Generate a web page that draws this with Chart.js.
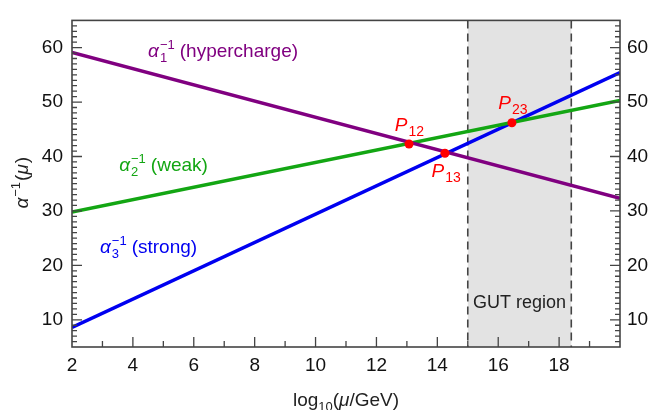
<!DOCTYPE html>
<html>
<head>
<meta charset="utf-8">
<script src="https://cdn.jsdelivr.net/npm/chart.js@4/dist/chart.umd.min.js"></script>
<style>
  html, body { margin: 0; padding: 0; background: #fff; }
  #wrap { width: 651px; height: 410px; }
</style>
</head>
<body>
<div id="wrap"><canvas id="c" width="651" height="410"></canvas></div>
<script>
// data
const logMu = [2, 20];
const alpha1Inv = [59.1, 32.3];   // hypercharge
const alpha2Inv = [29.8, 50.3];   // weak
const alpha3Inv = [8.6, 55.4];    // strong
const crossNames = ['12', '13', '23'];
const crossX = [13.07, 14.25, 16.45];
const crossY = [42.3, 40.6, 46.2];
const gutRegion = [15, 18.4];
const xTicks = [2, 4, 6, 8, 10, 12, 14, 16, 18];
const yTicks = [10, 20, 30, 40, 50, 60];

const FONT = '"Liberation Sans", Arial, sans-serif';
const AXIS = '#444';
const PURPLE = '#800080', GREEN = '#13a613', BLUE = '#0000f0', RED = '#ff0000';

function alphaLabel(ctx, x, y, idx, tail, color) {
  ctx.fillStyle = color;
  ctx.textAlign = 'left';
  ctx.textBaseline = 'alphabetic';
  ctx.font = 'italic 19px ' + FONT;
  ctx.fillText('α', x, y);
  const sx = x + ctx.measureText('α').width + 1;
  ctx.font = '13px ' + FONT;
  let w = ctx.measureText('−1').width;
  if (idx) { ctx.fillText(idx, sx, y + 5); w = Math.max(w, ctx.measureText(idx).width); }
  ctx.fillText('−1', sx, y - 8);
  if (tail) {
    ctx.font = '19px ' + FONT;
    ctx.fillText(tail, sx + w + 5, y);
  }
  return sx + w;
}

const deco = {
  id: 'deco',
  beforeDatasetsDraw(chart) {
    const { ctx, chartArea: a, scales: { x } } = chart;
    const x0 = x.getPixelForValue(gutRegion[0]), x1 = x.getPixelForValue(gutRegion[1]);
    ctx.save();
    ctx.fillStyle = '#e3e3e3';
    ctx.fillRect(x0, a.top, x1 - x0, a.bottom - a.top);
    ctx.strokeStyle = '#444';
    ctx.lineWidth = 1.6;
    ctx.setLineDash([8, 5]);
    [x0, x1].forEach(px => {
      ctx.beginPath(); ctx.moveTo(px, a.top); ctx.lineTo(px, a.bottom); ctx.stroke();
    });
    ctx.restore();
  },
  afterDraw(chart) {
    const { ctx, chartArea: a, scales: { x, y } } = chart;
    ctx.save();
    // frame
    ctx.strokeStyle = AXIS;
    ctx.lineWidth = 1.6;
    ctx.strokeRect(a.left, a.top, a.right - a.left, a.bottom - a.top);
    // inward ticks
    ctx.lineWidth = 1.3;
    ctx.beginPath();
    for (let v = 3; v < 20; v++) {
      const px = x.getPixelForValue(v);
      const len = v % 2 === 0 ? 10 : 6;
      ctx.moveTo(px, a.bottom); ctx.lineTo(px, a.bottom - len);
    }
    for (let v = 6; v < 65; v++) {
      const py = y.getPixelForValue(v);
      const len = v % 10 === 0 ? 10 : 5;
      ctx.moveTo(a.left, py); ctx.lineTo(a.left + len, py);
      ctx.moveTo(a.right, py); ctx.lineTo(a.right - len, py);
    }
    ctx.stroke();

    // curve labels
    const X = v => x.getPixelForValue(v), Y = v => y.getPixelForValue(v);
    alphaLabel(ctx, X(4.5), Y(58.2), '1', '(hypercharge)', PURPLE);
    alphaLabel(ctx, X(3.55), Y(37.4), '2', '(weak)', GREEN);
    alphaLabel(ctx, X(2.92), Y(22.3), '3', '(strong)', BLUE);

    // crossing labels
    const pPos = [[12.6, 44.7], [13.81, 36.2], [16.0, 48.8]];
    ctx.fillStyle = RED;
    crossNames.forEach((n, i) => {
      const px = X(pPos[i][0]), py = Y(pPos[i][1]);
      ctx.font = 'italic 19px ' + FONT;
      ctx.fillText('P', px, py);
      const w = ctx.measureText('P').width;
      ctx.font = '14px ' + FONT;
      ctx.fillText(n, px + w + 1, py + 5);
    });

    // GUT region text
    ctx.fillStyle = '#222';
    ctx.font = '18px ' + FONT;
    ctx.textAlign = 'center';
    ctx.fillText('GUT region', X((gutRegion[0] + gutRegion[1]) / 2), Y(12.1));

    // x title: log10(μ/GeV)
    ctx.textAlign = 'left';
    ctx.fillStyle = '#222';
    const parts = [['log', 'n', 19, 0], ['10', 'n', 13, 5], ['(', 'n', 19, 0], ['μ', 'i', 19, 0], ['/GeV)', 'n', 19, 0]];
    let total = 0;
    parts.forEach(p => { ctx.font = (p[1] === 'i' ? 'italic ' : '') + p[2] + 'px ' + FONT; total += ctx.measureText(p[0]).width; });
    let cx = (a.left + a.right) / 2 - total / 2;
    const by = 406;
    parts.forEach(p => {
      ctx.font = (p[1] === 'i' ? 'italic ' : '') + p[2] + 'px ' + FONT;
      ctx.fillText(p[0], cx, by + p[3]);
      cx += ctx.measureText(p[0]).width;
    });

    // y title: α^-1(μ), rotated
    ctx.translate(28, (a.top + a.bottom) / 2);
    ctx.rotate(-Math.PI / 2);
    ctx.font = 'italic 19px ' + FONT;
    const wA = ctx.measureText('α').width;
    ctx.font = '13px ' + FONT;
    const wS = ctx.measureText('−1').width;
    ctx.font = '19px ' + FONT;
    const wP = ctx.measureText('()').width;
    ctx.font = 'italic 19px ' + FONT;
    const wM = ctx.measureText('μ').width;
    let tx = -(wA + 1 + wS + wP + wM) / 2;
    const end = alphaLabel(ctx, tx, 0, null, null, '#222');
    ctx.font = '19px ' + FONT;
    ctx.fillText('(', end + 1, 0);
    let t2 = end + 1 + ctx.measureText('(').width;
    ctx.font = 'italic 19px ' + FONT;
    ctx.fillText('μ', t2, 0);
    t2 += wM + 1;
    ctx.font = '19px ' + FONT;
    ctx.fillText(')', t2, 0);
    ctx.restore();
  }
};

const line = (label, ys, color) => ({
  label,
  data: logMu.map((v, i) => ({ x: v, y: ys[i] })),
  showLine: true,
  borderColor: color,
  borderWidth: 3.5,
  pointRadius: 0,
  fill: false,
  order: 1
});

const yScale = (pos, w) => ({
  type: 'linear',
  position: pos,
  min: 5, max: 65,
  grid: { display: false, drawTicks: false },
  border: { display: false },
  afterBuildTicks: s => { s.ticks = yTicks.map(v => ({ value: v })); },
  afterFit: s => { s.width = w; },
  ticks: { font: { size: 19, family: FONT }, color: '#111', padding: pos === 'left' ? 9 : 7 }
});

new Chart(document.getElementById('c'), {
  type: 'scatter',
  data: {
    datasets: [
      line('alpha1', alpha1Inv, PURPLE),
      line('alpha2', alpha2Inv, GREEN),
      line('alpha3', alpha3Inv, BLUE),
      {
        label: 'crossings',
        data: crossX.map((v, i) => ({ x: v, y: crossY[i] })),
        showLine: false,
        pointRadius: 4.5,
        pointBackgroundColor: RED,
        pointBorderWidth: 0,
        order: -1
      }
    ]
  },
  options: {
    responsive: false,
    animation: false,
    layout: { padding: { top: 8, left: 0, right: 0, bottom: 0 } },
    plugins: { legend: { display: false }, tooltip: { enabled: false } },
    scales: {
      x: {
        type: 'linear',
        min: 2, max: 20,
        grid: { display: false, drawTicks: false },
        border: { display: false },
        afterBuildTicks: s => { s.ticks = xTicks.map(v => ({ value: v })); },
        afterFit: s => { s.height = 63; },
        ticks: { font: { size: 19, family: FONT }, color: '#111', padding: 7, maxRotation: 0 }
      },
      y: yScale('left', 72),
      y2: yScale('right', 31)
    }
  },
  plugins: [deco]
});
</script>
</body>
</html>
